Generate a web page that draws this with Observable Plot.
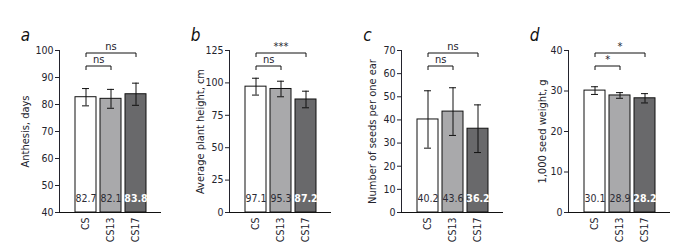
<!DOCTYPE html>
<html>
<head>
<meta charset="utf-8">
<script src="https://cdn.jsdelivr.net/npm/d3@7"></script>
<script src="https://cdn.jsdelivr.net/npm/@observablehq/plot@0.6"></script>
<style>
  html, body { margin: 0; padding: 0; background: #fff; }
  #chart { position: relative; width: 681px; height: 249px; }
  #chart svg { position: absolute; top: 0; overflow: visible; }
</style>
</head>
<body>
<div id="chart"></div>
<script>
// Lines compared
const groups = ["CS", "CS13", "CS17"];

// Means and error bar half-widths
const anthesisDays = [82.7, 82.1, 83.8];
const anthesisErr = [3.2, 3.5, 4.1];
const plantHeight = [97.1, 95.3, 87.2];
const plantHeightErr = [6.5, 6.0, 6.4];
const seedsPerEar = [40.2, 43.6, 36.2];
const seedsPerEarErr = [12.4, 10.3, 10.3];
const seedWeight = [30.1, 28.9, 28.2];
const seedWeightErr = [0.95, 0.7, 1.15];

// Significance of CS vs CS13 and CS vs CS17
const sigAnthesis = ["ns", "ns"];
const sigHeight = ["ns", "***"];
const sigSeeds = ["ns", "ns"];
const sigWeight = ["*", "*"];

// Panel letters, axis titles, y domains and ticks
const letters = ["a", "b", "c", "d"];
const yTitles = ["Anthesis, days", "Average plant height, cm", "Number of seeds per one ear", "1,000 seed weight, g"];
const yDomains = [[40, 100], [0, 125], [0, 70], [0, 40]];
const yTicks = [
  [40, 50, 60, 70, 80, 90, 100],
  [0, 25, 50, 75, 100, 125],
  [0, 10, 20, 30, 40, 50, 60, 70],
  [0, 10, 20, 30, 40]
];

const barFill = ["#ffffff", "#a9a9ab", "#69696b"];
const valueFill = ["#2b2b35", "#2b2b35", "#ffffff"];
const font = "'Liberation Sans Narrow', 'DejaVu Sans Condensed', 'Noto Sans', sans-serif";
const ink = "#23232d";

const panels = [
  {means: anthesisDays, errs: anthesisErr, sig: sigAnthesis, left: 0, titleOffset: 34},
  {means: plantHeight, errs: plantHeightErr, sig: sigHeight, left: 170, titleOffset: 29},
  {means: seedsPerEar, errs: seedsPerEarErr, sig: sigSeeds, left: 342, titleOffset: 29},
  {means: seedWeight, errs: seedWeightErr, sig: sigWeight, left: 509, titleOffset: 26}
];

const marginTop = 50, marginBottom = 37, marginLeft = 59, marginRight = 9;
const H = 249, W = 170;
const innerH = H - marginTop - marginBottom;
const innerW = W - marginLeft - marginRight;
const paddingInner = 0.18, paddingOuter = 0.59;
const step = innerW / (groups.length - paddingInner + 2 * paddingOuter);

panels.forEach((p, i) => {
  const [y0, y1] = yDomains[i];
  const perPx = (y1 - y0) / innerH;   // data units per pixel
  const rows = groups.map((g, j) => ({
    group: g, base: y0, value: p.means[j], lo: p.means[j] - p.errs[j], hi: p.means[j] + p.errs[j],
    fill: barFill[j], label: valueFill[j], bold: j === 2
  }));

  // Comparison brackets: CS-CS13 (lower) and CS-CS17 (upper)
  const brackets = [
    {from: "CS", to: "CS13", y: y1 - 15.5 * perPx, text: p.sig[0], mid: "CS", shift: step / 2},
    {from: "CS", to: "CS17", y: y1 - 2.5 * perPx, text: p.sig[1], mid: "CS13", shift: 0}
  ];
  const legs = brackets.flatMap(b => [
    {x: b.from, ya: b.y, yb: b.y - 4 * perPx},
    {x: b.to, ya: b.y, yb: b.y - 4 * perPx}
  ]);

  const chart = Plot.plot({
    width: W, height: H,
    marginTop, marginBottom, marginLeft, marginRight,
    style: {fontFamily: font, fontSize: "10.5px", color: ink, background: "transparent"},
    x: {domain: groups, paddingInner, paddingOuter, label: null,
        tickRotate: -90, tickSize: 0, tickPadding: 5},
    y: {domain: [y0, y1], ticks: yTicks[i], label: null, tickSize: 4, tickPadding: 2, line: true},
    marks: [
      Plot.barY(rows, {x: "group", y1: "base", y2: "value", fill: "fill", stroke: "#111", strokeWidth: 1}),
      Plot.ruleY([y0], {stroke: "#111", strokeWidth: 1.2}),
      Plot.ruleX(rows, {x: "group", y1: "lo", y2: "hi", stroke: "#111", strokeWidth: 1}),
      Plot.tickY(rows, {x: "group", y: "lo", insetLeft: 7, insetRight: 7, stroke: "#111", strokeWidth: 1}),
      Plot.tickY(rows, {x: "group", y: "hi", insetLeft: 7, insetRight: 7, stroke: "#111", strokeWidth: 1}),
      Plot.text(rows.filter(d => !d.bold), {x: "group", y: "base", text: d => d.value.toFixed(1), fill: "label", dy: -14, fontSize: 10.5}),
      Plot.text(rows.filter(d => d.bold), {x: "group", y: "base", text: d => d.value.toFixed(1), fill: "label", dy: -14, fontSize: 10.5, fontWeight: "bold"}),
      Plot.link(brackets, {x1: "from", x2: "to", y1: "y", y2: "y", stroke: "#111", strokeWidth: 1}),
      Plot.link(legs, {x1: "x", x2: "x", y1: "ya", y2: "yb", stroke: "#111", strokeWidth: 1}),
      ...brackets.map(b => Plot.text([b], {x: "mid", y: "y", text: "text", dx: b.shift, dy: -7, fontSize: 11, fill: ink})),
      Plot.text([yTitles[i]], {frameAnchor: "left", textAnchor: "middle", lineAnchor: "middle", rotate: -90,
        dx: -p.titleOffset, fontSize: 11, fill: ink}),
      Plot.text([letters[i]], {frameAnchor: "top-left", textAnchor: "middle", lineAnchor: "middle",
        dx: -34, dy: -15, fontSize: 17, fontStyle: "italic", fill: "#111"})
    ]
  });
  chart.style.left = p.left + "px";
  document.getElementById("chart").appendChild(chart);
});
</script>
</body>
</html>
